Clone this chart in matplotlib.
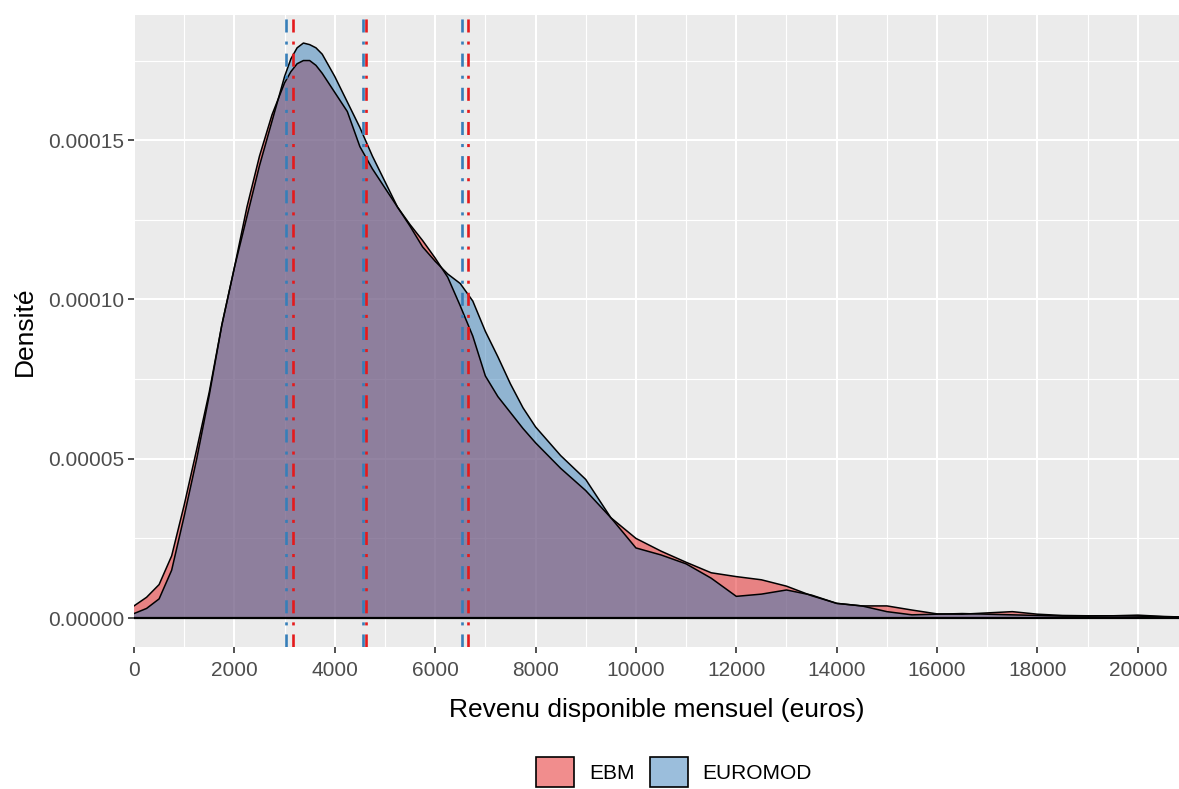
import matplotlib
matplotlib.use("Agg")
import matplotlib.pyplot as plt
import numpy as np
from matplotlib.patches import Patch

plt.rcParams['font.family'] = ['Liberation Sans', 'DejaVu Sans']
plt.rcParams['lines.scale_dashes'] = False

# Revenu (euros) and densities (units of 1e-5)
revenu = np.array([0, 250, 500, 750, 1000, 1250, 1500, 1750, 2000, 2250, 2500, 2750,
                   3000, 3125, 3250, 3375, 3500, 3625, 3750, 4000, 4250, 4500, 4750,
                   5000, 5250, 5500, 5750, 6000, 6250, 6500, 6750, 7000, 7250, 7500,
                   7750, 8000, 8500, 9000, 9500, 10000, 10500, 11000, 11500, 12000,
                   12500, 13000, 13500, 14000, 14500, 15000, 15500, 16000, 16500,
                   17000, 17500, 18000, 18500, 19000, 19500, 20000, 20500, 20900])

ebm = np.array([0.38, 0.65, 1.05, 1.95, 3.55, 5.3, 7.1, 9.2, 11.0, 12.9, 14.5, 15.8,
                16.8, 17.15, 17.4, 17.5, 17.5, 17.35, 17.1, 16.5, 15.9, 14.8, 14.1,
                13.5, 12.9, 12.35, 11.85, 11.3, 10.7, 9.8, 8.85, 7.6, 6.95, 6.45,
                5.95, 5.5, 4.7, 4.0, 3.15, 2.5, 2.1, 1.75, 1.42, 1.3,
                1.2, 1.0, 0.7, 0.46, 0.38, 0.38, 0.25, 0.13, 0.12,
                0.16, 0.2, 0.12, 0.08, 0.07, 0.07, 0.09, 0.05, 0.03]) * 1e-5

euromod = np.array([0.14, 0.3, 0.6, 1.5, 3.2, 5.0, 7.0, 9.2, 11.0, 12.6, 14.2, 15.6,
                    17.0, 17.55, 17.9, 18.05, 18.0, 17.9, 17.7, 17.0, 16.2, 15.4, 14.5,
                    13.7, 12.9, 12.3, 11.65, 11.2, 10.8, 10.5, 9.95, 9.0, 8.2, 7.35,
                    6.6, 6.0, 5.1, 4.35, 3.15, 2.2, 1.98, 1.7, 1.25, 0.68,
                    0.75, 0.88, 0.72, 0.46, 0.38, 0.2, 0.1, 0.12, 0.14,
                    0.12, 0.1, 0.08, 0.06, 0.06, 0.07, 0.06, 0.04, 0.03]) * 1e-5

# quartiles (dash-dot vertical lines)
q_ebm = [3160, 4630, 6650]
q_euromod = [3020, 4560, 6535]

labels = ['EBM', 'EUROMOD']
red = '#E41A1C'
blue = '#377EB8'

fig = plt.figure(figsize=(11.79, 7.89), dpi=100)
ax = fig.add_axes([134/1179, 1 - 647/789, 1 - 134/1179, (647 - 15)/789])
ax.set_facecolor('#EBEBEB')

ax.fill_between(revenu, 0, ebm, facecolor=red, alpha=0.5, edgecolor='none', zorder=2)
ax.fill_between(revenu, 0, euromod, facecolor=blue, alpha=0.5, edgecolor='none', zorder=2)
ax.plot(revenu, ebm, color='black', lw=1.1, zorder=3)
ax.plot(revenu, euromod, color='black', lw=1.1, zorder=3)
ax.axhline(0, color='black', lw=1.6, zorder=3)

dd = (0, (9.4, 6.5, 2.2, 6.5))
for q in q_euromod:
    ax.axvline(q, color=blue, lw=1.9, linestyle=dd, zorder=4)
for q in q_ebm:
    ax.axvline(q, color=red, lw=1.9, linestyle=dd, zorder=4)

ax.set_xlim(0, 20820)
ax.set_ylim(-0.91e-5, 18.93e-5)

ax.set_xticks(np.arange(0, 20001, 2000))
ax.set_xticks(np.arange(1000, 20001, 2000), minor=True)
ax.set_yticks([0, 5e-5, 10e-5, 15e-5])
ax.set_yticks([2.5e-5, 7.5e-5, 12.5e-5, 17.5e-5], minor=True)
ax.set_yticklabels(['0.00000', '0.00005', '0.00010', '0.00015'])

ax.grid(which='major', color='white', lw=1.5)
ax.grid(which='minor', color='white', lw=0.8)
ax.set_axisbelow(True)
for s in ax.spines.values():
    s.set_visible(False)
ax.tick_params(which='major', length=4, width=1.2, color='#333333',
               labelsize=15, labelcolor='#4D4D4D', pad=3)
ax.tick_params(axis='x', which='major', pad=6)
ax.tick_params(which='minor', length=0)

ax.set_xlabel('Revenu disponible mensuel (euros)', fontsize=19, color='black')
ax.set_ylabel('Densité', fontsize=19, color='black')
ax.xaxis.set_label_coords(0.5, -0.080)
ax.yaxis.set_label_coords(-0.093, 0.5)

handles = [Patch(facecolor=(0.947, 0.551, 0.553), edgecolor='black', lw=1.2),
           Patch(facecolor=(0.608, 0.745, 0.861), edgecolor='black', lw=1.2)]
fig.legend(handles, labels, loc='center', bbox_to_anchor=(674/1179, 1 - 772/789),
           ncol=2, frameon=False, fontsize=15, handlelength=1.83, handleheight=1.8,
           handletextpad=0.72, columnspacing=0.72)

fig.savefig('out.png', dpi=100)
